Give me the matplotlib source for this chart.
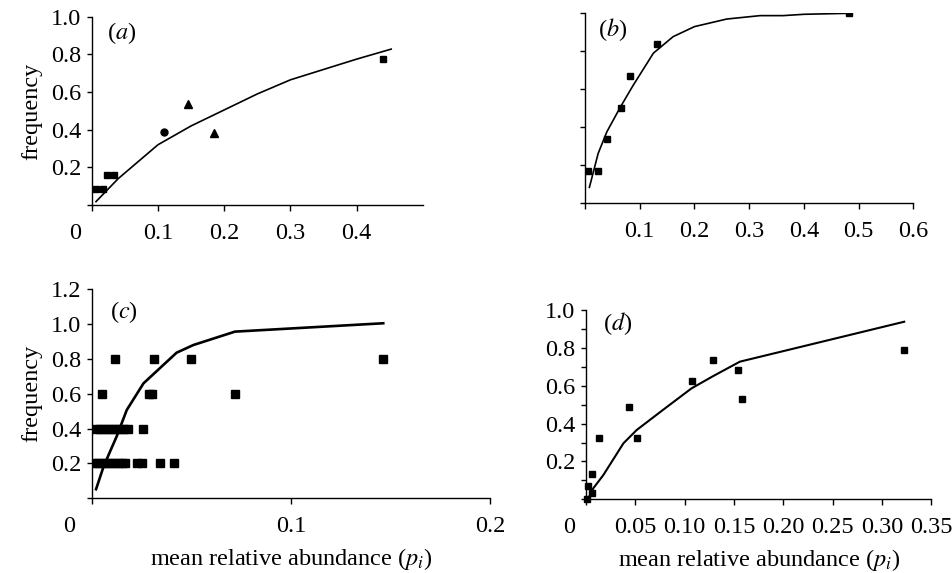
import matplotlib
matplotlib.use("Agg")
import matplotlib.pyplot as plt
import matplotlib.transforms as mtransforms

plt.rcParams['font.family'] = ['Liberation Serif', 'DejaVu Serif']
plt.rcParams['mathtext.fontset'] = 'stix'
plt.rcParams['font.size'] = 17.5

# panel (a)
a_sq_x = [0.006, 0.017, 0.023, 0.034, 0.439]
a_sq_y = [0.083, 0.083, 0.161, 0.161, 0.777]
a_circ_x = [0.109]
a_circ_y = [0.388]
a_tri_x = [0.145, 0.185]
a_tri_y = [0.535, 0.384]
a_line_x = [0.0065, 0.04, 0.1, 0.15, 0.2, 0.25, 0.3, 0.35, 0.4, 0.452]
a_line_y = [0.018, 0.14, 0.32, 0.42, 0.505, 0.59, 0.665, 0.72, 0.775, 0.828]

# panel (b)
b_sq_x = [0.006, 0.024, 0.040, 0.065, 0.083, 0.132, 0.482]
b_sq_y = [0.167, 0.167, 0.338, 0.502, 0.667, 0.84, 1.0]
b_line_x = [0.008, 0.024, 0.04, 0.065, 0.088, 0.125, 0.161, 0.2, 0.259, 0.32, 0.362, 0.4, 0.478]
b_line_y = [0.081, 0.26, 0.375, 0.507, 0.62, 0.79, 0.877, 0.93, 0.97, 0.988, 0.988, 0.995, 1.0]

# panel (c)
c_sq_x = [0.0119, 0.0314, 0.0498, 0.1463,
          0.0052, 0.0288, 0.0304, 0.0719,
          0.002, 0.004, 0.006, 0.008, 0.010, 0.012, 0.014, 0.016, 0.018, 0.0259,
          0.001, 0.003, 0.005, 0.007, 0.009, 0.011, 0.013, 0.015, 0.0167,
          0.0226, 0.0251, 0.0343, 0.0413]
c_sq_y = [0.8] * 4 + [0.6] * 4 + [0.4] * 10 + [0.2] * 13
c_line_x = [0.0022, 0.0059, 0.0092, 0.0125, 0.0176, 0.026, 0.0426, 0.051, 0.0719, 0.1463]
c_line_y = [0.052, 0.18, 0.268, 0.354, 0.507, 0.66, 0.836, 0.88, 0.957, 1.005]

# panel (d)
d_sq_x = [0.001, 0.0024, 0.0057, 0.0064, 0.0132, 0.0432, 0.052, 0.1078, 0.1287, 0.1544, 0.1578, 0.3226]
d_sq_y = [0.0, 0.072, 0.035, 0.136, 0.326, 0.488, 0.326, 0.623, 0.734, 0.683, 0.530, 0.789]
d_line_x = [0.0034, 0.0074, 0.0176, 0.038, 0.0514, 0.078, 0.107, 0.129, 0.156, 0.3226]
d_line_y = [0.014, 0.058, 0.128, 0.296, 0.366, 0.472, 0.586, 0.651, 0.727, 0.938]

fig = plt.figure(figsize=(9.52, 5.73), dpi=100)
ax_a = fig.add_axes([0.0963, 0.6422, 0.348, 0.3286])
ax_b = fig.add_axes([0.6145, 0.6462, 0.345, 0.3305])
ax_c = fig.add_axes([0.0963, 0.1304, 0.4187, 0.3647])
ax_d = fig.add_axes([0.6155, 0.1286, 0.3627, 0.3304])


def style(ax):
    for s in ['top', 'right']:
        ax.spines[s].set_visible(False)
    for s in ['left', 'bottom']:
        ax.spines[s].set_linewidth(1.0)
    ax.tick_params(axis='y', direction='out', length=3.5, width=1.0, pad=4)
    ax.tick_params(axis='x', direction='out', length=4, width=1.0, pad=9)


def shift_zero(ax, dx_px):
    lab = ax.get_xticklabels()[0]
    lab.set_transform(lab.get_transform() + mtransforms.ScaledTranslation(-dx_px / 100, 0, fig.dpi_scale_trans))


# (a)
ax_a.plot(a_line_x, a_line_y, color='black', lw=1.2)
ax_a.plot(a_sq_x, a_sq_y, 's', color='black', ms=4.5)
ax_a.plot(a_circ_x, a_circ_y, 'o', color='black', ms=5)
ax_a.plot(a_tri_x, a_tri_y, '^', color='black', ms=5.5)
ax_a.set_xlim(0, 0.5)
ax_a.set_ylim(0, 1.0)
ax_a.set_xticks([0, 0.1, 0.2, 0.3, 0.4])
ax_a.set_xticklabels(['0', '0.1', '0.2', '0.3', '0.4'])
ax_a.set_yticks([0, 0.2, 0.4, 0.6, 0.8, 1.0])
ax_a.set_yticklabels(['', '0.2', '0.4', '0.6', '0.8', '1.0'])
ax_a.set_ylabel('frequency', labelpad=6)
ax_a.text(0.046, 0.913, '($a$)', transform=ax_a.transAxes, va='center', ha='left')
style(ax_a)
shift_zero(ax_a, 17)

# (b)
ax_b.plot(b_line_x, b_line_y, color='black', lw=1.2)
ax_b.plot(b_sq_x, b_sq_y, 's', color='black', ms=5)
ax_b.set_xlim(0, 0.6)
ax_b.set_ylim(0, 1.0)
ax_b.set_xticks([0, 0.1, 0.2, 0.3, 0.4, 0.5, 0.6])
ax_b.set_xticklabels(['', '0.1', '0.2', '0.3', '0.4', '0.5', '0.6'])
ax_b.set_yticks([0, 0.2, 0.4, 0.6, 0.8, 1.0])
ax_b.set_yticklabels([])
ax_b.text(0.039, 0.916, '($b$)', transform=ax_b.transAxes, va='center', ha='left')
style(ax_b)

# (c)
ax_c.plot(c_line_x, c_line_y, color='black', lw=1.9)
ax_c.plot(c_sq_x, c_sq_y, 's', color='black', ms=5.5)
ax_c.set_xlim(0, 0.2)
ax_c.set_ylim(0, 1.2)
ax_c.set_xticks([0, 0.1, 0.2])
ax_c.set_xticklabels(['0', '0.1', '0.2'])
ax_c.set_yticks([0, 0.2, 0.4, 0.6, 0.8, 1.0, 1.2])
ax_c.set_yticklabels(['', '0.2', '0.4', '0.6', '0.8', '1.0', '1.2'])
ax_c.set_ylabel('frequency', labelpad=6)
ax_c.set_xlabel('mean relative abundance ($p_i$)', labelpad=6)
ax_c.text(0.046, 0.89, '($c$)', transform=ax_c.transAxes, va='center', ha='left')
style(ax_c)
shift_zero(ax_c, 23)

# (d)
ax_d.plot(d_line_x, d_line_y, color='black', lw=1.5)
ax_d.plot(d_sq_x, d_sq_y, 's', color='black', ms=4.5, clip_on=False)
ax_d.set_xlim(0, 0.35)
ax_d.set_ylim(0, 1.0)
ax_d.set_xticks([0, 0.05, 0.10, 0.15, 0.20, 0.25, 0.30, 0.35])
ax_d.set_xticklabels(['0', '0.05', '0.10', '0.15', '0.20', '0.25', '0.30', '0.35'])
ax_d.set_yticks([0, 0.1, 0.2, 0.3, 0.4, 0.5, 0.6, 0.7, 0.8, 0.9, 1.0])
ax_d.set_yticklabels(['', '', '0.2', '', '0.4', '', '0.6', '', '0.8', '', '1.0'])
ax_d.set_xlabel('mean relative abundance ($p_i$)', labelpad=6)
ax_d.text(0.048, 0.93, '($d$)', transform=ax_d.transAxes, va='center', ha='left')
style(ax_d)
shift_zero(ax_d, 17)

fig.savefig('out.png', dpi=100)
